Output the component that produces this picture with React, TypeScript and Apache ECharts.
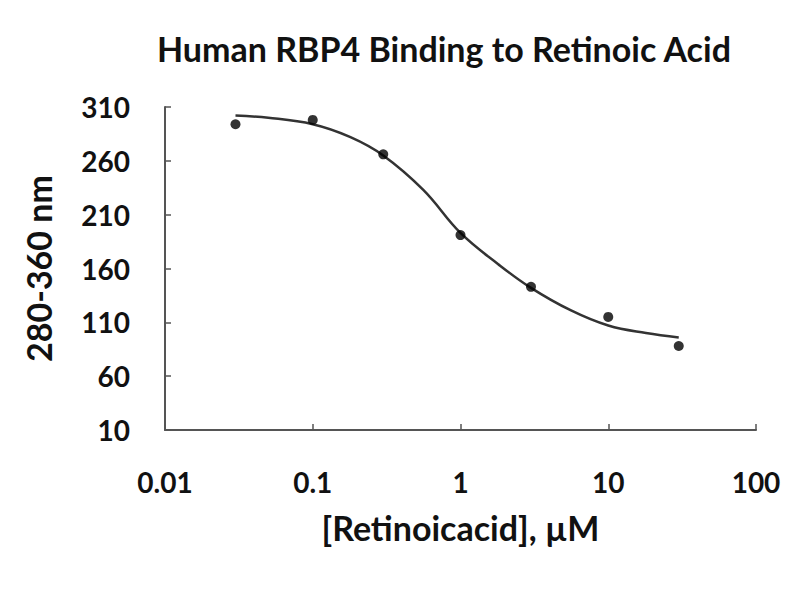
import React, { useEffect, useRef } from "react";
import * as echarts from "echarts";

const title = "Human RBP4 Binding to Retinoic Acid";
const xName = "[Retinoicacid], µM";
const yName = "280-360 nm";

// measured points
const pointX = [0.03, 0.1, 0.3, 1, 3, 10, 30];
const pointY = [294, 298, 266, 191, 143, 115, 88];

// fitted curve
const curveX = [0.03, 0.05, 0.1, 0.18, 0.3, 0.56, 1, 1.8, 3, 5.6, 10, 18, 30];
const curveY = [302, 300, 294, 282, 265, 233, 193, 164, 142, 121, 107, 100, 96];

const font = "Lato";

export default function App() {
  const ref = useRef<HTMLDivElement>(null);
  useEffect(() => {
    if (!ref.current) return;
    const chart = echarts.init(ref.current, null, { renderer: "svg" });
    chart.setOption({
      animation: false,
      backgroundColor: "#ffffff",
      title: {
        text: title,
        left: 152,
        top: 26,
        textStyle: { fontFamily: font, fontWeight: "bold", fontSize: 34, color: "#111" },
      },
      grid: { left: 165, right: 44, top: 107, bottom: 170 },
      xAxis: {
        type: "log",
        logBase: 10,
        min: 0.01,
        max: 100,
        name: xName,
        nameLocation: "middle",
        nameGap: 80,
        nameTextStyle: { fontFamily: font, fontWeight: "bold", fontSize: 34, color: "#111" },
        axisLine: { lineStyle: { color: "#555", width: 2 } },
        axisTick: { inside: true, length: 6, lineStyle: { color: "#555", width: 1.5 } },
        minorTick: { show: false },
        splitLine: { show: false },
        axisLabel: {
          fontFamily: font,
          fontWeight: "bold",
          fontSize: 28,
          color: "#111",
          margin: 38,
          formatter: (v: number) => String(v),
        },
      },
      yAxis: {
        type: "value",
        min: 10,
        max: 310,
        interval: 50,
        name: yName,
        nameLocation: "middle",
        nameGap: 110,
        nameRotate: 90,
        nameTextStyle: { fontFamily: font, fontWeight: "bold", fontSize: 34, color: "#111" },
        axisLine: { show: true, lineStyle: { color: "#555", width: 2 } },
        axisTick: { show: true, inside: true, length: 6, lineStyle: { color: "#555", width: 1.5 } },
        splitLine: { show: false },
        axisLabel: {
          fontFamily: font,
          fontWeight: "bold",
          fontSize: 28,
          color: "#111",
          margin: 35,
        },
      },
      series: [
        {
          type: "line",
          data: curveX.map((x, i) => [x, curveY[i]]),
          smooth: 0.4,
          showSymbol: false,
          symbol: "none",
          lineStyle: { color: "#333", width: 2.5 },
          z: 1,
        },
        {
          type: "scatter",
          data: pointX.map((x, i) => [x, pointY[i]]),
          symbol: "circle",
          symbolSize: 10,
          itemStyle: { color: "#000" },
          z: 2,
        },
      ],
    });
    return () => chart.dispose();
  }, []);
  return (
    <div
      ref={ref}
      style={{ position: "fixed", left: 0, top: 0, width: 800, height: 600 }}
    />
  );
}
